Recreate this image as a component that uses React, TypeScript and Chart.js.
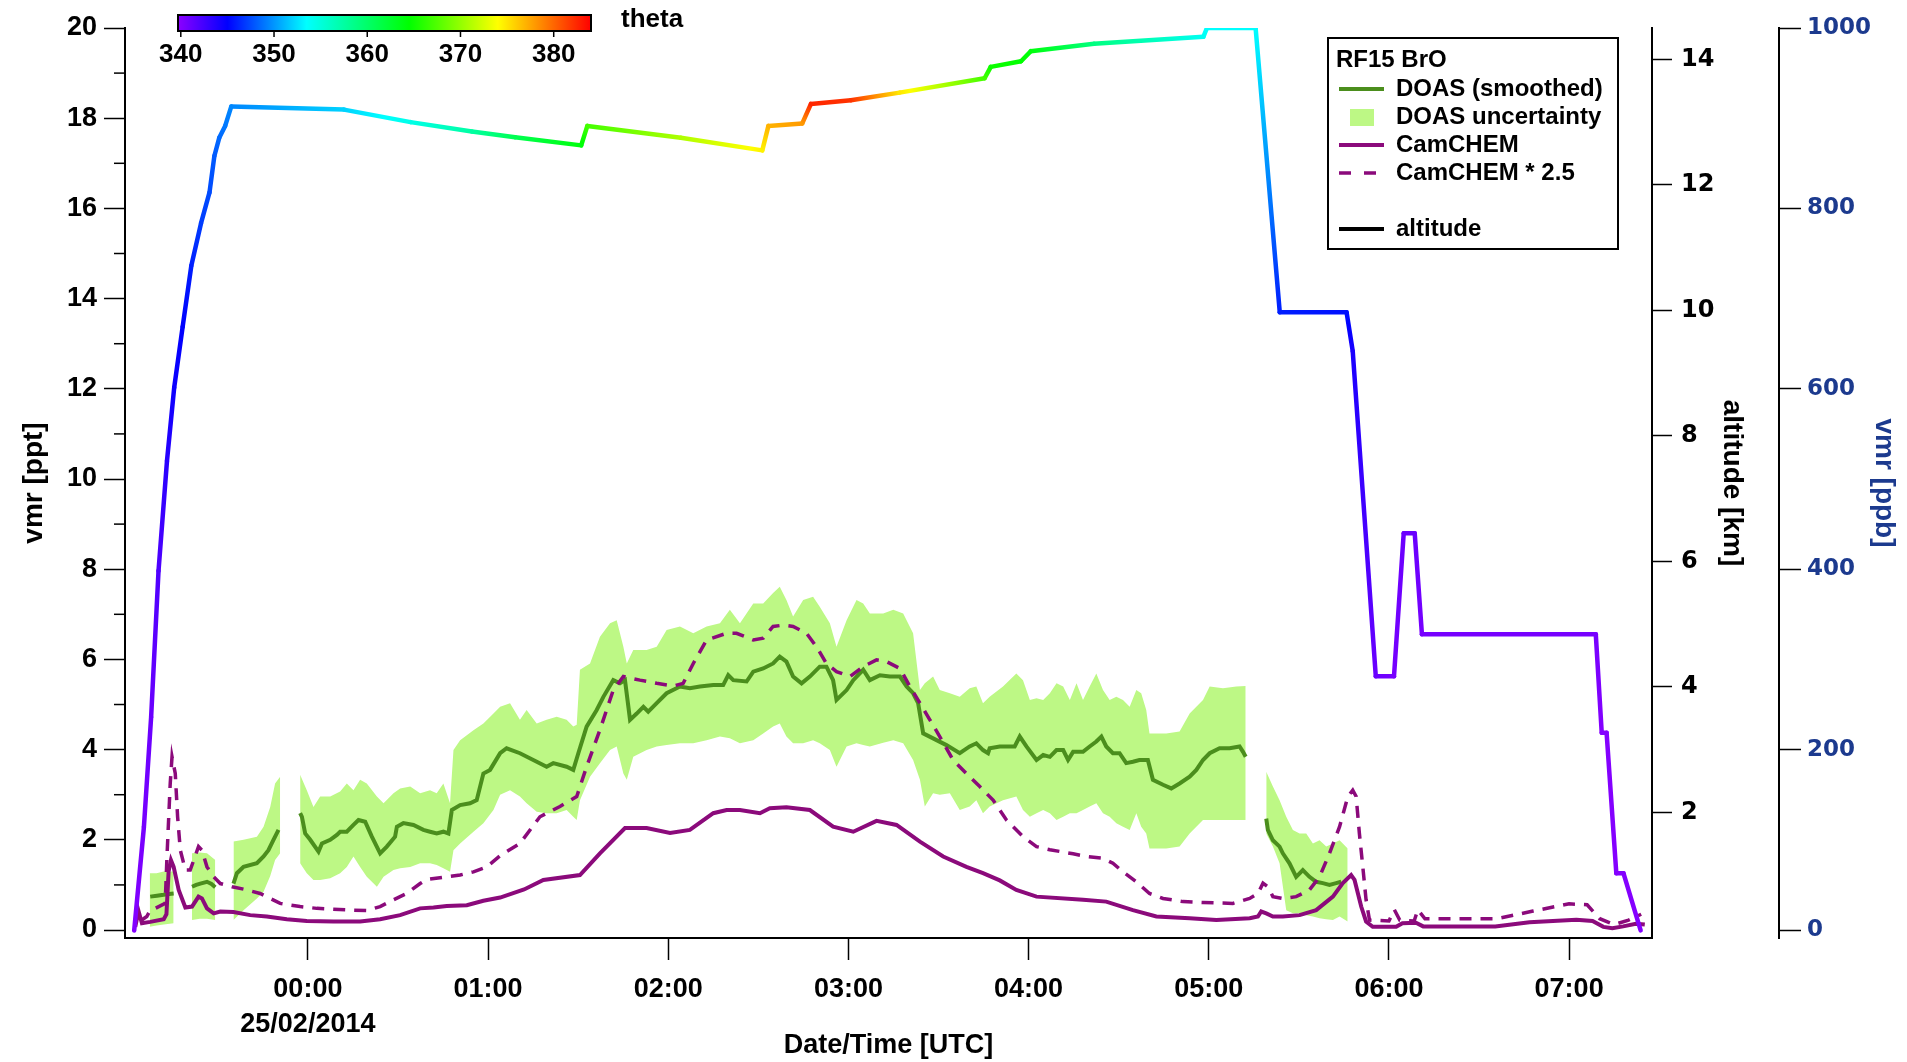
import React, { useEffect, useRef } from 'react';
import { Chart, registerables } from 'chart.js';

Chart.register(...registerables);

const FONT = '"Liberation Sans", Arial, Helvetica, sans-serif';
const WIDE = '"DejaVu Sans", Verdana, sans-serif';

// ---------- DATA (time in hours after 00:00 UTC 25/02/2014) ----------
const hourTicks = [0, 1, 2, 3, 4, 5, 6, 7];
const vmrTicks = [0, 2, 4, 6, 8, 10, 12, 14, 16, 18, 20];
const vmrMinorTicks = [1, 3, 5, 7, 9, 11, 13, 15, 17, 19];
const altTicks = [2, 4, 6, 8, 10, 12, 14];
const ppbTicks = [0, 200, 400, 600, 800, 1000];
const thetaTicks = [340, 350, 360, 370, 380];

// DOAS (smoothed) BrO [ppt]
const doasTime = [
  -0.875, -0.838, -0.801, -0.77, -0.745, -0.7,
  -0.643, -0.62, -0.597, -0.56, -0.535, -0.514, -0.46,
  -0.413, -0.394, -0.357, -0.283, -0.246, -0.219, -0.191, -0.163, -0.1,
  -0.043, -0.033, -0.015, 0.013, 0.059, 0.078, 0.124, 0.161, 0.179, 0.216, 0.253, 0.281, 0.318, 0.355, 0.401, 0.438, 0.484, 0.494, 0.53, 0.586, 0.641, 0.678, 0.715, 0.752, 0.78, 0.799, 0.845, 0.9, 0.937, 0.974, 1.011,
  1.067, 1.103, 1.177, 1.251, 1.325, 1.362, 1.436, 1.473, 1.501, 1.547, 1.603, 1.64, 1.695, 1.732, 1.76, 1.788, 1.825, 1.862, 1.889, 1.936, 1.991, 2.065, 2.12, 2.176, 2.25, 2.305, 2.333, 2.361, 2.435, 2.472, 2.527, 2.582, 2.619, 2.656, 2.693, 2.74, 2.786, 2.841, 2.878, 2.915, 2.934, 2.99, 3.027, 3.082, 3.119, 3.175, 3.23, 3.286, 3.323, 3.359, 3.387, 3.415, 3.47, 3.544,
  3.618, 3.673, 3.71, 3.747, 3.775, 3.784, 3.84, 3.923, 3.951, 3.988, 4.044, 4.081, 4.118, 4.155, 4.192, 4.219, 4.247, 4.302, 4.339, 4.376, 4.404, 4.431, 4.468, 4.505, 4.542, 4.579, 4.615, 4.662, 4.69, 4.746, 4.792, 4.838, 4.894, 4.931, 4.968, 5.005, 5.06, 5.116, 5.171, 5.19, 5.205, 5.26,
  5.319, 5.328, 5.356, 5.393, 5.411, 5.448, 5.485, 5.522, 5.559, 5.596, 5.633, 5.67, 5.707, 5.735,
];
const doasVmr = [
  0.74, 0.76, 0.78, 0.8, 0.81, null,
  0.96, 1.0, 1.03, 1.07, 1.02, 0.95, null,
  1.03, 1.26, 1.4, 1.48, 1.63, 1.77, 2.0, 2.22, null,
  2.59, 2.51, 2.14, 2.0, 1.74, 1.92, 2.0, 2.11, 2.18, 2.18, 2.33, 2.44, 2.4, 2.07, 1.7, 1.85, 2.07, 2.29, 2.37, 2.33, 2.22, 2.18, 2.14, 2.18, 2.14, 2.66, 2.77, 2.81, 2.88, 3.47, 3.55,
  3.92, 4.03, 3.92, 3.77, 3.62, 3.7, 3.62, 3.55, 3.92, 4.51, 4.88, 5.17, 5.54, 5.47, 5.54, 4.66, 4.8, 4.95, 4.84, 5.03, 5.25, 5.4, 5.36, 5.4, 5.43, 5.43, 5.65, 5.54, 5.51, 5.73, 5.8, 5.91, 6.06, 5.95, 5.62, 5.47, 5.62, 5.84, 5.84, 5.54, 5.1, 5.32, 5.54, 5.77, 5.54, 5.65, 5.62, 5.62, 5.4, 5.25, 5.03, 4.36, 4.25, 4.1,
  3.92, 4.07, 4.14, 3.99, 3.92, 4.03, 4.07, 4.07, 4.29, 4.07, 3.77, 3.88, 3.84, 3.99, 3.99, 3.77, 3.95, 3.95, 4.07, 4.18, 4.29, 4.07, 3.92, 3.92, 3.7, 3.73, 3.77, 3.77, 3.33, 3.22, 3.14, 3.25, 3.4, 3.55, 3.77, 3.92, 4.03, 4.03, 4.07, 3.95, 3.84, null,
  2.47, 2.22, 1.99, 1.85, 1.7, 1.48, 1.18, 1.33, 1.18, 1.07, 1.04, 1.0, 1.04, 1.07,
];

// DOAS uncertainty band [ppt]
const bandTime = [
  -0.878, -0.84, -0.8, -0.745, -0.7,
  -0.643, -0.6, -0.56, -0.514, -0.46,
  -0.413, -0.357, -0.283, -0.246, -0.209, -0.182, -0.154, -0.1,
  -0.043, -0.006, 0.031, 0.068, 0.124, 0.179, 0.216, 0.253, 0.29, 0.327, 0.383, 0.42, 0.475, 0.512, 0.568, 0.623, 0.678, 0.715, 0.752, 0.789, 0.808, 0.845, 0.919, 0.974, 1.03,
  1.067, 1.122, 1.177, 1.214, 1.27, 1.325, 1.381, 1.436, 1.473, 1.492, 1.51, 1.566, 1.621, 1.677, 1.714, 1.751, 1.77, 1.806, 1.88, 1.936, 1.991, 2.065, 2.139, 2.213, 2.287, 2.342, 2.398, 2.472, 2.527, 2.582, 2.619, 2.656, 2.693, 2.749, 2.804, 2.841, 2.897, 2.934, 2.99, 3.045, 3.082, 3.119, 3.193, 3.249, 3.304, 3.359, 3.397, 3.424, 3.47, 3.507, 3.563,
  3.618, 3.673, 3.71, 3.747, 3.784, 3.858, 3.932, 3.969, 4.007, 4.044, 4.081, 4.118, 4.155, 4.192, 4.229, 4.266, 4.302, 4.339, 4.376, 4.413, 4.45, 4.487, 4.524, 4.561, 4.598, 4.625, 4.653, 4.671, 4.764, 4.838, 4.894, 4.968, 5.005, 5.079, 5.153, 5.205, 5.26,
  5.319, 5.356, 5.393, 5.43, 5.467, 5.504, 5.541, 5.578, 5.615, 5.652, 5.689, 5.726, 5.771,
];
const bandLow = [
  0.07, 0.1, 0.12, 0.15, null,
  0.22, 0.25, 0.25, 0.22, null,
  0.22, 0.44, 0.7, 0.85, 1.2, 1.55, 1.7, null,
  1.48, 1.26, 1.11, 1.11, 1.15, 1.26, 1.4, 1.63, 1.4, 1.18, 0.96, 1.18, 1.33, 1.37, 1.4, 1.48, 1.48, 1.44, 1.37, 1.29, 1.77, 1.92, 2.18, 2.37, 2.66,
  3.0, 3.1, 2.96, 2.81, 2.62, 2.59, 2.59, 2.66, 2.51, 2.44, 2.88, 3.4, 3.7, 3.99, 4.07, 3.47, 3.33, 3.84, 3.99, 4.07, 4.1, 4.14, 4.14, 4.21, 4.29, 4.25, 4.14, 4.21, 4.36, 4.51, 4.58, 4.29, 4.14, 4.14, 4.21, 4.14, 3.99, 3.62, 4.07, 4.14, 4.1, 4.07, 4.15, 4.21, 4.14, 3.77, 3.33, 2.74, 3.03, 3.0, 3.03,
  2.66, 2.74, 2.88, 2.59, 2.74, 2.88, 2.96, 2.66, 2.51, 2.59, 2.66, 2.59, 2.44, 2.51, 2.59, 2.59, 2.66, 2.74, 2.81, 2.59, 2.51, 2.37, 2.29, 2.22, 2.59, 2.29, 2.14, 1.81, 1.81, 1.85, 2.14, 2.44, 2.44, 2.44, 2.44, 2.44, null,
  2.14, 1.85, 1.48, 0.44, 0.37, 0.37, 0.33, 0.3, 0.26, 0.24, 0.22, 0.3, 0.19,
];
const bandHigh = [
  1.26, 1.26, 1.3, 1.3, null,
  1.7, 1.72, 1.7, 1.55, null,
  1.96, 2.0, 2.07, 2.29, 2.73, 3.25, 3.4, null,
  3.44, 3.1, 2.73, 2.96, 2.96, 3.07, 3.25, 3.1, 3.33, 3.25, 2.96, 2.81, 3.03, 3.14, 3.18, 3.03, 3.1, 3.03, 3.25, 2.81, 3.99, 4.21, 4.43, 4.58, 4.8,
  4.95, 5.03, 4.66, 4.88, 4.58, 4.66, 4.73, 4.66, 4.51, 4.55, 5.77, 5.91, 6.5, 6.8, 6.87, 6.28, 5.91, 6.21, 6.21, 6.28, 6.65, 6.73, 6.58, 6.73, 6.8, 7.1, 6.8, 7.24, 7.24, 7.47, 7.61, 7.32, 6.95, 7.32, 7.39, 7.17, 6.8, 6.28, 6.87, 7.32, 7.24, 7.02, 7.02, 7.1, 7.02, 6.58, 5.32, 5.47, 5.62, 5.32, 5.25,
  5.17, 5.36, 5.4, 5.03, 5.17, 5.4, 5.69, 5.54, 5.1, 5.14, 5.1, 5.25, 5.47, 5.4, 5.1, 5.47, 5.1, 5.4, 5.69, 5.32, 5.1, 5.17, 5.1, 4.95, 5.32, 5.25, 4.88, 4.36, 4.36, 4.4, 4.8, 5.1, 5.4, 5.36, 5.4, 5.41, null,
  3.51, 3.18, 2.88, 2.51, 2.22, 2.14, 2.14, 1.92, 1.99, 1.85, 1.92, 1.99, 1.81,
];

// CamCHEM BrO [ppt]
const camTime = [
  -0.958, -0.94, -0.921, -0.875, -0.8, -0.785, -0.773, -0.76, -0.745, -0.717, -0.68, -0.643, -0.607, -0.588, -0.56, -0.523, -0.486, -0.413, -0.32, -0.228, -0.117, -0.006, 0.142, 0.29, 0.401, 0.512, 0.623, 0.697, 0.771, 0.882, 0.974, 1.067,
  1.2, 1.307, 1.51, 1.621, 1.76, 1.88, 2.01, 2.12, 2.25, 2.324, 2.398, 2.509, 2.564, 2.656, 2.786, 2.915, 3.027, 3.156, 3.267, 3.397, 3.526, 3.655, 3.747, 3.84, 3.932, 4.044, 4.302, 4.431, 4.579, 4.709, 4.894, 5.042, 5.227, 5.273, 5.291, 5.319, 5.356, 5.411, 5.504, 5.596, 5.689, 5.744, 5.79, 5.809, 5.846, 5.873, 5.91,
  6.04, 6.075, 6.15, 6.19, 6.59, 6.78, 7.04, 7.13, 7.19, 7.24, 7.3, 7.37, 7.42,
];
const camVmr = [
  0.07, 0.42, 0.15, 0.18, 0.24, 0.35, 1.3, 1.55, 1.4, 0.89, 0.5, 0.52, 0.74, 0.7, 0.48, 0.37, 0.41, 0.4, 0.33, 0.3, 0.24, 0.2, 0.19, 0.19, 0.24, 0.33, 0.48, 0.5, 0.53, 0.55, 0.65, 0.72,
  0.9, 1.11, 1.22, 1.7, 2.26, 2.26, 2.15, 2.22, 2.59, 2.66, 2.66, 2.59, 2.7, 2.72, 2.66, 2.29, 2.18, 2.42, 2.33, 1.96, 1.63, 1.4, 1.26, 1.1, 0.89, 0.74, 0.67, 0.63, 0.44, 0.3, 0.26, 0.22, 0.26, 0.3, 0.41, 0.37, 0.3, 0.3, 0.33, 0.44, 0.74, 1.04, 1.22, 1.11, 0.52, 0.19, 0.07,
  0.07, 0.15, 0.16, 0.08, 0.08, 0.17, 0.23, 0.2, 0.07, 0.04, 0.08, 0.14, 0.12,
];

// CamCHEM * 2.5 [ppt]
const cam25Time = [
  -0.93, -0.894, -0.875, -0.847, -0.792, -0.782, -0.764, -0.754, -0.736, -0.723, -0.708, -0.68, -0.653, -0.607, -0.588, -0.56, -0.523, -0.486, -0.421, -0.339, -0.265, -0.154, -0.043, 0.05, 0.142, 0.253, 0.327, 0.401, 0.475, 0.549, 0.623, 0.66, 0.771, 0.845, 0.919, 0.993,
  1.067, 1.177, 1.288, 1.399, 1.492, 1.547, 1.621, 1.695, 1.751, 1.843, 1.936, 2.028, 2.083, 2.139, 2.213, 2.324, 2.379, 2.472, 2.527, 2.582, 2.638, 2.693, 2.767, 2.823, 2.878, 2.934, 3.008, 3.082, 3.156, 3.212, 3.286, 3.341, 3.397, 3.452, 3.507, 3.581, 3.655, 3.729, 3.803,
  3.877, 3.969, 4.044, 4.118, 4.247, 4.321, 4.413, 4.468, 4.524, 4.598, 4.671, 4.746, 4.857, 4.968, 5.134, 5.227, 5.273, 5.301, 5.328, 5.356, 5.411, 5.485, 5.559, 5.615, 5.67, 5.726, 5.772, 5.799, 5.818, 5.836, 5.855, 5.873, 5.892,
  6.0, 6.03, 6.06, 6.14, 6.16, 6.2, 6.6, 6.8, 7.0, 7.1, 7.17, 7.25, 7.33, 7.4,
];
const cam25Vmr = [
  0.2, 0.3, 0.44, 0.48, 0.59, 1.63, 3.25, 3.84, 3.47, 2.51, 1.77, 1.33, 1.33, 1.85, 1.77, 1.4, 1.18, 1.03, 0.96, 0.89, 0.81, 0.59, 0.52, 0.48, 0.46, 0.44, 0.43, 0.52, 0.67, 0.81, 1.03, 1.12, 1.18, 1.22, 1.29, 1.4,
  1.65, 1.92, 2.51, 2.74, 2.96, 3.62, 4.44, 5.32, 5.62, 5.54, 5.47, 5.41, 5.47, 5.91, 6.43, 6.58, 6.58, 6.43, 6.47, 6.73, 6.76, 6.73, 6.58, 6.28, 5.91, 5.73, 5.62, 5.84, 5.99, 5.95, 5.8, 5.4, 5.03, 4.66, 4.29, 3.77, 3.47, 3.18, 2.88,
  2.44, 2.07, 1.85, 1.78, 1.69, 1.63, 1.59, 1.48, 1.29, 1.07, 0.81, 0.7, 0.63, 0.61, 0.59, 0.7, 0.81, 1.04, 0.96, 0.74, 0.7, 0.74, 0.89, 1.18, 1.7, 2.29, 2.96, 3.1, 2.96, 2.14, 1.4, 0.67, 0.22,
  0.2, 0.45, 0.22, 0.2, 0.45, 0.25, 0.25, 0.42, 0.58, 0.56, 0.25, 0.12, 0.22, 0.35,
];

// Aircraft altitude [km] and potential temperature theta [K]
const altTime = [
  -0.964, -0.91, -0.87, -0.829, -0.782, -0.742, -0.695, -0.647, -0.593, -0.546, -0.519, -0.492, -0.459, -0.425,
  0.2, 0.57, 0.91, 1.15, 1.517, 1.551, 2.07, 2.522, 2.556, 2.744, 2.792, 3.014, 3.284, 3.756, 3.79, 3.958, 4.012, 4.363, 4.97, 4.99, 5.26,
  5.394, 5.765, 5.799, 5.927, 6.028, 6.082, 6.143, 6.183, 7.148, 7.181, 7.208, 7.262, 7.302, 7.397,
];
const altKm = [
  0.12, 1.77, 3.52, 5.85, 7.6, 8.77, 9.74, 10.71, 11.39, 11.88, 12.46, 12.75, 12.94, 13.25,
  13.2, 13.0, 12.85, 12.76, 12.63, 12.94, 12.75, 12.55, 12.94, 12.98, 13.29, 13.35, 13.47, 13.7, 13.88, 13.97, 14.13, 14.25, 14.36, 14.5, 14.5,
  9.97, 9.97, 9.35, 4.17, 4.17, 6.45, 6.45, 4.84, 4.84, 3.27, 3.27, 1.03, 1.03, 0.12,
];
const altTheta = [
  340, 340.5, 341, 342, 343.5, 344.5, 345, 346, 347, 347.5, 348, 348.5, 349, 349.5,
  352, 354.5, 357.5, 361, 364, 367, 371, 374.5, 377, 378, 382.5, 382, 375, 367, 365, 364.5, 364, 359, 354, 353.5, 353.5,
  346, 345.5, 344, 341, 340.5, 341, 341, 340.5, 340.5, 340, 340, 340, 340, 340,
];

// theta colour scale (rainbow)
const thetaMin = 339.7;
const thetaMax = 384;
const thetaStops: [number, number[]][] = [
  [339.7, [140, 0, 255]],
  [345, [0, 0, 255]],
  [353.5, [0, 255, 255]],
  [364.5, [0, 255, 0]],
  [374, [255, 255, 0]],
  [384, [255, 0, 0]],
];

// ---------- helpers ----------
const GREEN = '#4b8e1d';
const BAND = '#bdf885';
const PURPLE = '#8b0a7b';
const NAVY = '#1c3a8e';

function cmap(t: number): string {
  if (t <= thetaStops[0][0]) return `rgb(${thetaStops[0][1].join(',')})`;
  for (let i = 1; i < thetaStops.length; i++) {
    const [t1, c1] = thetaStops[i];
    const [t0, c0] = thetaStops[i - 1];
    if (t <= t1) {
      const f = (t - t0) / (t1 - t0);
      const c = c0.map((v, k) => Math.round(v + (c1[k] - v) * f));
      return `rgb(${c.join(',')})`;
    }
  }
  return `rgb(${thetaStops[thetaStops.length - 1][1].join(',')})`;
}

const pts = (xs: number[], ys: (number | null)[]) => xs.map((x, i) => ({ x, y: ys[i] }));

function segGradient(sc: any) {
  const t0 = altTheta[sc.p0DataIndex];
  const t1 = altTheta[sc.p1DataIndex];
  const g = sc.chart.ctx.createLinearGradient(sc.p0.x, sc.p0.y, sc.p1.x, sc.p1.y);
  g.addColorStop(0, cmap(t0));
  if (t1 !== t0) {
    for (const [t] of thetaStops) {
      if ((t - t0) * (t - t1) < 0) g.addColorStop((t - t0) / (t1 - t0), cmap(t));
    }
  }
  g.addColorStop(1, cmap(t1));
  return g;
}

const decorPlugin = {
  id: 'decor',
  afterDraw(chart: any) {
    const c = chart.ctx as CanvasRenderingContext2D;
    const a = chart.chartArea;
    const ys = chart.scales.y;
    c.save();
    // minor ticks on left axis
    c.strokeStyle = '#000';
    c.lineWidth = 1.5;
    for (const v of vmrMinorTicks) {
      const py = ys.getPixelForValue(v);
      c.beginPath();
      c.moveTo(a.left - 11, py);
      c.lineTo(a.left, py);
      c.stroke();
    }

    // colour bar
    const cbL = 178, cbR = 591, cbT = 15, cbB = 31;
    const g = c.createLinearGradient(cbL, 0, cbR, 0);
    for (const [t, col] of thetaStops) {
      g.addColorStop((t - thetaMin) / (thetaMax - thetaMin), `rgb(${col.join(',')})`);
    }
    c.fillStyle = g;
    c.fillRect(cbL, cbT, cbR - cbL, cbB - cbT);
    c.strokeStyle = '#000';
    c.lineWidth = 2;
    c.strokeRect(cbL, cbT, cbR - cbL, cbB - cbT);
    c.lineWidth = 1.5;
    c.fillStyle = '#000';
    c.font = `bold 26px ${FONT}`;
    c.textAlign = 'center';
    c.textBaseline = 'middle';
    for (const t of thetaTicks) {
      const x = cbL + ((t - thetaMin) / (thetaMax - thetaMin)) * (cbR - cbL);
      c.beginPath();
      c.moveTo(x, cbB);
      c.lineTo(x, cbB + 6);
      c.stroke();
      c.fillText(String(t), x, 55);
    }
    c.textAlign = 'left';
    c.fillText('theta', 621, 20);

    // legend
    const lx = a.right - 324, ly = a.top + 10, lw = 290, lh = 211;
    c.fillStyle = '#fff';
    c.fillRect(lx, ly, lw, lh);
    c.strokeStyle = '#000';
    c.lineWidth = 2;
    c.strokeRect(lx, ly, lw, lh);
    c.font = `bold 24px ${FONT}`;
    c.fillStyle = '#000';
    c.textAlign = 'left';
    c.textBaseline = 'middle';
    c.fillText('RF15 BrO', lx + 8, ly + 22);
    const sx0 = lx + 11, sx1 = lx + 56, tx = lx + 68;
    const rows: [number, string][] = [
      [51, 'DOAS (smoothed)'],
      [79, 'DOAS uncertainty'],
      [107, 'CamCHEM'],
      [135, 'CamCHEM * 2.5'],
      [191, 'altitude'],
    ];
    rows.forEach(([dy, label], i) => {
      const y = ly + dy;
      c.setLineDash([]);
      c.lineWidth = 4;
      if (i === 0) { c.strokeStyle = GREEN; }
      if (i === 2) { c.strokeStyle = PURPLE; }
      if (i === 3) { c.strokeStyle = PURPLE; c.setLineDash([12, 13]); c.lineWidth = 3.5; }
      if (i === 4) { c.strokeStyle = '#000'; }
      if (i === 1) {
        c.fillStyle = BAND;
        c.fillRect(lx + 22, y - 8, 24, 17);
      } else {
        c.beginPath();
        c.moveTo(sx0, y);
        c.lineTo(sx1, y);
        c.stroke();
      }
      c.setLineDash([]);
      c.fillStyle = '#000';
      c.fillText(label, tx, y);
    });
    c.restore();
  },
};

export default function App() {
  const ref = useRef<HTMLCanvasElement | null>(null);

  useEffect(() => {
    if (!ref.current) return;
    const tickFont = { family: FONT, size: 27, weight: 'bold' as const, lineHeight: 1.3 };
    const wideFont = { family: WIDE, size: 24, weight: 'bold' as const };
    const titleFont = { family: FONT, size: 28, weight: 'bold' as const };

    const chart = new Chart(ref.current, {
      type: 'line',
      data: {
        datasets: [
          {
            label: 'altitude',
            data: pts(altTime, altKm),
            yAxisID: 'yAlt',
            borderColor: cmap(345),
            borderWidth: 4.5,
            borderCapStyle: 'round',
            borderJoinStyle: 'round',
            pointRadius: 0,
            order: 0,
            segment: {
              borderColor: (sc: any) => segGradient(sc),
              borderWidth: (sc: any) => 4.5 + (sc.p0DataIndex % 2) * 0.001,
            },
          } as any,
          {
            label: 'CamCHEM',
            data: pts(camTime, camVmr),
            yAxisID: 'y',
            borderColor: PURPLE,
            borderWidth: 4,
            pointRadius: 0,
            order: 1,
          },
          {
            label: 'CamCHEM * 2.5',
            data: pts(cam25Time, cam25Vmr),
            yAxisID: 'y',
            borderColor: PURPLE,
            borderWidth: 3.5,
            borderDash: [12, 9],
            pointRadius: 0,
            order: 2,
          },
          {
            label: 'DOAS (smoothed)',
            data: pts(doasTime, doasVmr),
            yAxisID: 'y',
            borderColor: GREEN,
            borderWidth: 4,
            pointRadius: 0,
            spanGaps: false,
            order: 3,
          },
          {
            label: 'DOAS uncertainty',
            data: pts(bandTime, bandHigh),
            yAxisID: 'y',
            borderWidth: 0,
            borderColor: 'rgba(0,0,0,0)',
            backgroundColor: BAND,
            pointRadius: 0,
            spanGaps: false,
            fill: '+1',
            order: 5,
          },
          {
            label: 'DOAS uncertainty low',
            data: pts(bandTime, bandLow),
            yAxisID: 'y',
            borderWidth: 0,
            borderColor: 'rgba(0,0,0,0)',
            pointRadius: 0,
            spanGaps: false,
            fill: false,
            order: 6,
          },
        ],
      },
      options: {
        responsive: false,
        animation: false,
        events: [],
        layout: { padding: { top: 28, left: 0, right: 0, bottom: 0 } },
        plugins: { legend: { display: false }, tooltip: { enabled: false } },
        scales: {
          x: {
            type: 'linear',
            position: 'bottom',
            min: -1.015,
            max: 7.46,
            afterBuildTicks: (s: any) => { s.ticks = hourTicks.map((v) => ({ value: v })); },
            afterFit: (s: any) => { s.height = 124; },
            grid: { display: true, drawOnChartArea: false, drawTicks: true, tickLength: 22, tickWidth: 1.5, tickColor: '#000' },
            border: { display: true, color: '#000', width: 2 },
            ticks: {
              color: '#000',
              font: tickFont,
              padding: 12,
              maxRotation: 0,
              autoSkip: false,
              callback: (v: any) => {
                const hh = String(v).padStart(2, '0') + ':00';
                return v === 0 ? [hh, '25/02/2014'] : hh;
              },
            },
            title: { display: true, text: 'Date/Time [UTC]', color: '#000', font: { ...titleFont, size: 27 }, padding: { top: 0, bottom: 0 } },
          },
          y: {
            type: 'linear',
            position: 'left',
            min: -0.177,
            max: 20,
            afterBuildTicks: (s: any) => { s.ticks = vmrTicks.map((v) => ({ value: v })); },
            afterFit: (s: any) => { s.width = 125; },
            grid: { display: true, drawOnChartArea: false, drawTicks: true, tickLength: 21, tickWidth: 1.5, tickColor: '#000' },
            border: { display: true, color: '#000', width: 2 },
            ticks: { color: '#000', font: tickFont, padding: 7, callback: (v: any) => String(v) },
            title: { display: true, text: 'vmr [ppt]', color: '#000', font: titleFont, padding: { top: 17, bottom: 0 } },
          },
          yAlt: {
            type: 'linear',
            position: 'right',
            weight: 0,
            min: 0,
            max: 14.5,
            afterBuildTicks: (s: any) => { s.ticks = altTicks.map((v) => ({ value: v })); },
            afterFit: (s: any) => { s.width = 127; },
            grid: { display: true, drawOnChartArea: false, drawTicks: true, tickLength: 20, tickWidth: 1.5, tickColor: '#000' },
            border: { display: true, color: '#000', width: 2 },
            ticks: { color: '#000', font: wideFont, padding: 9, callback: (v: any) => String(v) },
            title: { display: true, text: 'altitude [km]', color: '#000', font: titleFont, padding: { top: 30, bottom: 0 } },
          },
          yPpb: {
            type: 'linear',
            position: 'right',
            weight: 1,
            min: -8.85,
            max: 1000,
            afterBuildTicks: (s: any) => { s.ticks = ppbTicks.map((v) => ({ value: v })); },
            afterFit: (s: any) => { s.width = 128; },
            grid: { display: true, drawOnChartArea: false, drawTicks: true, tickLength: 22, tickWidth: 1.5, tickColor: '#000' },
            border: { display: true, color: '#000', width: 2 },
            ticks: { color: NAVY, font: { ...wideFont, size: 23 }, padding: 6, callback: (v: any) => String(v) },
            title: { display: true, text: 'vmr [ppb]', color: NAVY, font: titleFont, padding: { top: 6, bottom: 0 } },
          },
        },
      } as any,
      plugins: [decorPlugin],
    });
    return () => chart.destroy();
  }, []);

  return (
    <div style={{ position: 'fixed', left: 0, top: 0, width: 1907, height: 1062, background: '#fff' }}>
      <canvas ref={ref} width={1907} height={1062} style={{ display: 'block' }} />
    </div>
  );
}
